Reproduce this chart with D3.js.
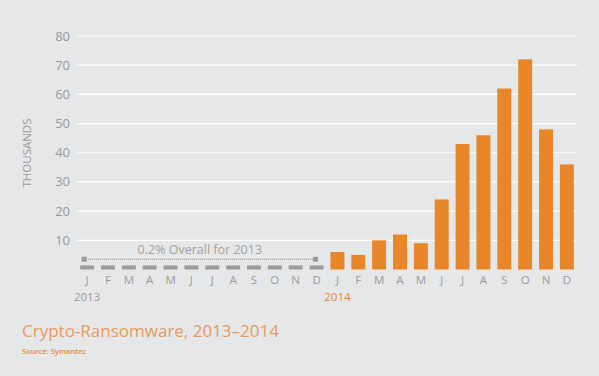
<!doctype html>
<html lang="en">
<head>
<meta charset="utf-8">
<title>Crypto-Ransomware, 2013–2014</title>
<script src="https://cdn.jsdelivr.net/npm/d3@7"></script>
<style>
	body { margin: 0; background: #e6e7e8; }
	svg { display: block; font-family: "Open Sans", sans-serif; }
	.grid line { stroke: #fff; stroke-width: 1.2; }
	.ylab { fill: #9a9a9a; font-size: 13px; }
	.xlab { fill: #9a9a9a; font-size: 11.5px; }
</style>
</head>
<body>
<div id="viz"></div>
<script>

// DATA
var months = ["J","F","M","A","M","J","J","A","S","O","N","D"];
var values2013 = [1.4,1.4,1.4,1.4,1.4,1.4,1.4,1.4,1.4,1.4,1.4,1.4];
var values2014 = [6,5,10,12,9,24,43,46,62,72,48,36];
var yTicks = [10,20,30,40,50,60,70,80];
var note = "0.2% Overall for 2013";

(function(d3) {

	var w = 599, h = 376;

	var bars = [];
	values2013.forEach(function(v, i){ bars.push({key: "2013-" + i, month: months[i], value: v, year: 2013}); });
	values2014.forEach(function(v, i){ bars.push({key: "2014-" + i, month: months[i], value: v, year: 2014}); });

	var svg = d3.select("#viz")
		.append("svg")
		.attr("width", w)
		.attr("height", h);

	// SCALES
	var x = d3.scaleBand()
		.domain(bars.map(function(d){ return d.key; }))
		.range([77, 577])
		.paddingInner(0.33)
		.paddingOuter(0.15);

	var y = d3.scaleLinear()
		.domain([0, 80])
		.range([269.5, 36]);

	// GRID
	svg.append("g")
		.attr("class", "grid")
		.selectAll("line")
		.data(yTicks)
		.enter()
		.append("line")
		.attr("x1", 77)
		.attr("x2", 577)
		.attr("y1", function(d){ return y(d); })
		.attr("y2", function(d){ return y(d); });

	svg.append("g")
		.selectAll("text")
		.data(yTicks)
		.enter()
		.append("text")
		.attr("class", "ylab")
		.attr("x", 70)
		.attr("y", function(d){ return y(d); })
		.attr("dy", "0.35em")
		.attr("text-anchor", "end")
		.text(function(d){ return d; });

	svg.append("text")
		.attr("transform", "translate(31,153) rotate(-90)")
		.attr("text-anchor", "middle")
		.attr("fill", "#9a9a9a")
		.style("font-size", "11.5px")
		.text("THOUSANDS");

	// BARS
	svg.append("g")
		.selectAll("rect")
		.data(bars)
		.enter()
		.append("rect")
		.attr("x", function(d){ return x(d.key); })
		.attr("width", x.bandwidth())
		.attr("y", function(d){ return y(d.value); })
		.attr("height", function(d){ return y(0) - y(d.value); })
		.attr("fill", function(d){ return d.year === 2013 ? "#9c9c9c" : "#e8862a"; });

	// 2013 NOTE (dotted bracket)
	var x0 = x("2013-0") + x.bandwidth() / 2 - 3,
		x1 = x("2013-11") + x.bandwidth() / 2 - 1,
		yNote = y(3.5);

	svg.append("line")
		.attr("x1", x0).attr("x2", x1)
		.attr("y1", yNote).attr("y2", yNote)
		.attr("stroke", "#8a8a8a")
		.attr("stroke-width", 1)
		.attr("stroke-dasharray", "1,1");

	svg.selectAll("rect.cap")
		.data([x0, x1])
		.enter()
		.append("rect")
		.attr("class", "cap")
		.attr("x", function(d){ return d - 2.5; })
		.attr("y", yNote - 2.5)
		.attr("width", 5)
		.attr("height", 5)
		.attr("fill", "#9c9c9c");

	svg.append("text")
		.attr("x", (x0 + x1) / 2)
		.attr("y", 253.5)
		.attr("text-anchor", "middle")
		.attr("fill", "#a3a3a3")
		.style("font-size", "12.5px")
		.text(note);

	// X LABELS
	svg.append("g")
		.selectAll("text")
		.data(bars)
		.enter()
		.append("text")
		.attr("class", "xlab")
		.attr("x", function(d){ return x(d.key) + x.bandwidth() / 2; })
		.attr("y", 284)
		.attr("text-anchor", "middle")
		.attr("fill", function(d, i){ return i === 12 ? "#e8862a" : "#9a9a9a"; })
		.text(function(d){ return d.month; });

	svg.append("text")
		.attr("class", "xlab")
		.attr("x", x("2013-0") + x.bandwidth() / 2)
		.attr("y", 301)
		.attr("text-anchor", "middle")
		.text("2013");

	svg.append("text")
		.attr("class", "xlab")
		.attr("x", x("2014-0") + x.bandwidth() / 2)
		.attr("y", 301)
		.attr("text-anchor", "middle")
		.attr("fill", "#e8862a")
		.style("fill", "#e8862a")
		.text("2014");

	// TITLE
	svg.append("text")
		.attr("x", 22)
		.attr("y", 337)
		.attr("fill", "#e9995a")
		.style("font-size", "17px")
		.text("Crypto-Ransomware, 2013–2014");

	svg.append("text")
		.attr("x", 22)
		.attr("y", 354)
		.attr("fill", "#e58a3a")
		.style("font-size", "7.5px")
		.style("font-weight", "600")
		.text("Source: Symantec");

})(d3);

</script>
</body>
</html>
